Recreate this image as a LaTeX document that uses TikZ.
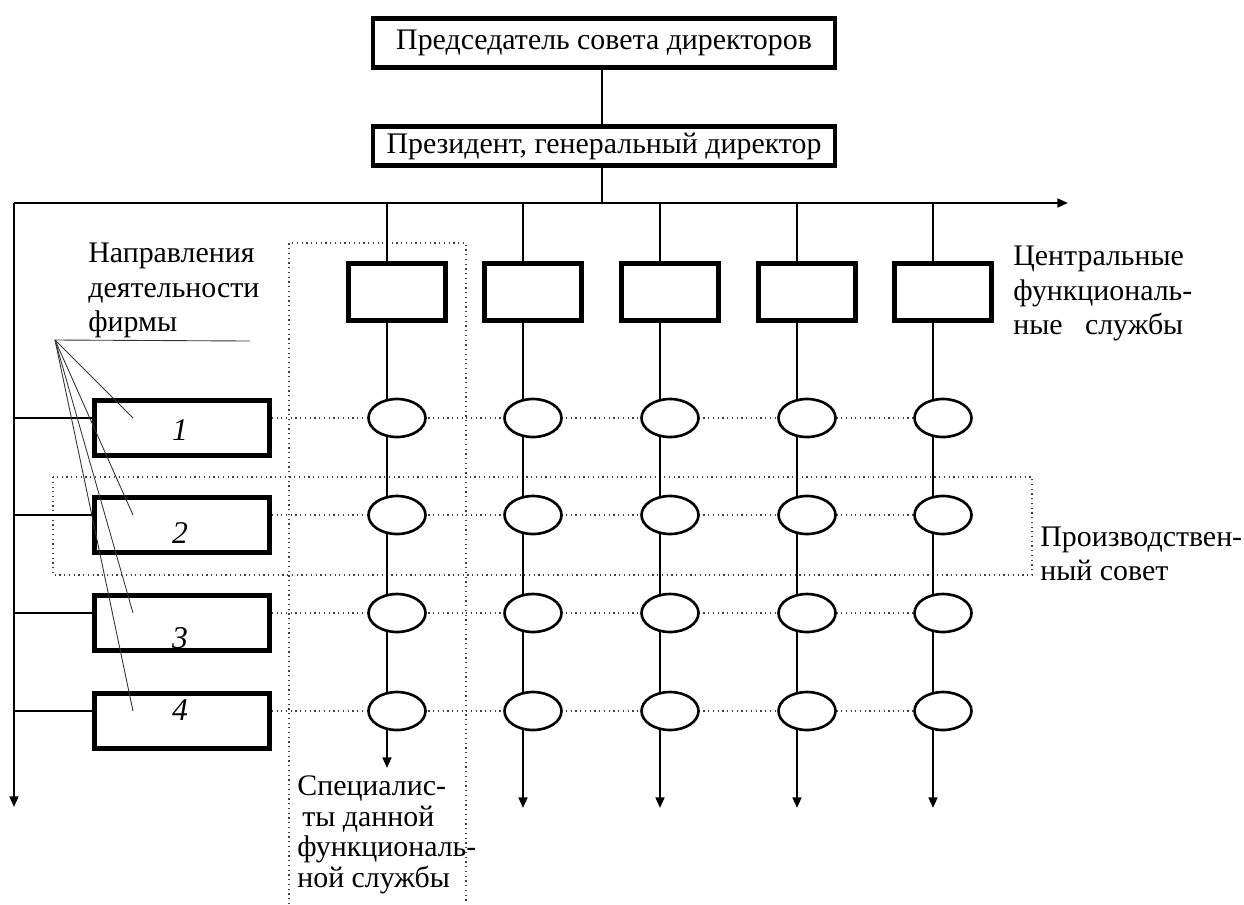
\documentclass[tikz,border=0pt]{standalone}
\usepackage{fontspec}
\setmainfont{Liberation Serif}
\usetikzlibrary{arrows.meta, shapes.geometric, positioning}

\begin{document}
\begin{tikzpicture}[
      >={Triangle[length=6pt,width=5pt]},
      x=0.02cm, y=-0.02cm,
      txt/.style={font=\fontsize{17}{19.6}\selectfont},
      lbl/.style={txt, align=left, anchor=north west, inner sep=0pt},
      topbox/.style={draw, line width=2.3pt, txt, inner sep=0pt, minimum width=9.26cm},
      fbox/.style={draw, fill=white, line width=2.6pt, minimum width=1.94cm, minimum height=1.14cm, inner sep=0pt},
      dbox/.style={draw, fill=white, line width=2.6pt, minimum width=3.5cm, minimum height=1.1cm, inner sep=0pt},
      unit/.style={ellipse, draw, fill=white, line width=1.5pt, minimum width=1.14cm, minimum height=0.76cm, inner sep=0pt},
      conn/.style={line width=1.2pt},
      fanln/.style={line width=0.5pt, black!80},
      dotln/.style={dotted, line width=0.7pt, black!75},
      num/.style={font=\fontsize{18}{20}\selectfont\itshape, inner sep=0pt}
    ]
    \useasboundingbox (0,0) rectangle (1244,904);

    % Руководство
    \node[topbox, minimum height=0.98cm] (chair) at (604,43) {Председатель совета директоров};
    \node[topbox, minimum height=0.78cm] (pres) at (604,146) {Президент, генеральный директор};
    \coordinate (hub) at (602,203);
    \coordinate (bl) at (14,203);
    \coordinate (br) at (1068,203);
    \coordinate (bd) at (14,807);
    \draw[conn] (chair.south -| hub) -- (pres.north -| hub);
    \draw[conn] (pres.south -| hub) -- (hub);
    \draw[conn, ->] (bl) -- (br);
    \draw[conn, ->] (bl) -- (bd);

    % Рамки
    \draw[dotln] (289,904) -- (289,243) -- (466,243) -- (466,904);
    \draw[dotln] (53,477) rectangle (1032,575);

    % Направления деятельности
    \foreach \x [count=\c] in {387,523,660,797,933} \coordinate (c\c) at (\x,203);
    \foreach \y [count=\r] in {418,515,613,711} {
      \coordinate (r\r) at (14,\y);
      \coordinate (p\r) at (133,\y);
      \node[dbox] (d\r) at (182,\y+10) {};
      \draw[conn] (r\r) -- (d\r.west |- r\r);
      \draw[dotln] (d\r.east |- r\r) -- (c5 |- r\r);
    }
    \foreach \r/\y in {1/430,2/533,3/638,4/710} \node[num] (n\r) at (180,\y) {\r};

    % Центральные службы
    \foreach \x/\yb [count=\c] in {387/768,523/808,660/808,797/808,933/808} {
      \coordinate (a\c) at (\x,\yb);
      \draw[conn, ->] (c\c) -- (a\c);
      \node[fbox] (f\c) at (\x+10,292) {};
      \foreach \y [count=\r] in {418,515,613,711}
        \node[unit] (e\r\c) at (\x+10,\y) {};
    }

    % Выноска
    \coordinate (fan) at (55,340);
    \coordinate (ul) at (250,341);
    \draw[fanln] (fan) -- (ul);
    \foreach \r in {1,...,4} \draw[fanln] (fan) -- (p\r);

    % Подписи
    \node[lbl] (dirs) at (88,243) {Направления\\деятельности\\фирмы};
    \node[lbl] (central) at (1013,246) {Центральные\\функциональ-\\ные~~ службы};
    \node[lbl, font=\fontsize{17}{19}\selectfont] (council) at (1040,527) {Производствен-\\ный совет};
    \node[lbl, font=\fontsize{17}{17.6}\selectfont] (spec) at (297,775) {Специалис-\\\hspace*{0.1cm}ты данной\\функциональ-\\ной службы};
  \end{tikzpicture}
\end{document}
